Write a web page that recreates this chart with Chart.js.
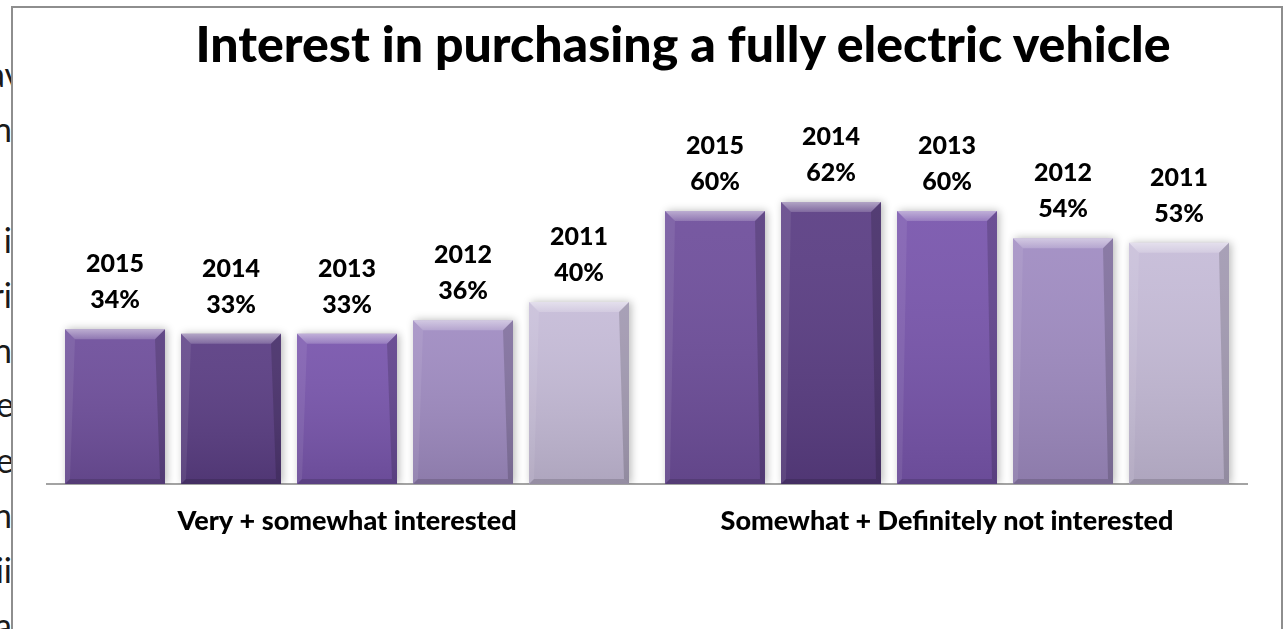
<!DOCTYPE html>
<html>
<head>
<meta charset="utf-8">
<script src="https://cdn.jsdelivr.net/npm/chart.js@4.4.1/dist/chart.umd.min.js"></script>
<style>
  html, body { margin: 0; padding: 0; background: #fff; width: 1284px; height: 629px; overflow: hidden; }
  .frag { position: absolute; right: 1272px; font-family: Lato, sans-serif; font-size: 34px; line-height: 34px;
          color: #1a1a1a; white-space: nowrap; }
  #frame { position: absolute; left: 11px; top: 6px; width: 1268px; height: 700px;
           border: 2px solid #8e8e8e; background: #fff; }
  #title { position: absolute; left: 683px; top: 18px; transform: translateX(-50%); white-space: nowrap;
           font-family: Lato, sans-serif; font-weight: 900; font-size: 50px; line-height: 50px; color: #000; }
  #wrap { position: absolute; left: 0; top: 0; width: 1284px; height: 629px; }
</style>
</head>
<body>
<!-- surrounding document text, partly hidden behind the chart frame -->
<div class="frag" style="top:57px; right:1262px">av</div>
<div class="frag" style="top:112px">n</div>
<div class="frag" style="top:223px">i</div>
<div class="frag" style="top:278px">ri</div>
<div class="frag" style="top:333px">n</div>
<div class="frag" style="top:387px; right:1270px">e</div>
<div class="frag" style="top:443px; right:1270px">e</div>
<div class="frag" style="top:498px">h</div>
<div class="frag" style="top:553px">ii</div>
<div class="frag" style="top:608px">a</div>

<div id="frame"></div>
<div id="title">Interest in purchasing a fully electric vehicle</div>
<div id="wrap"><canvas id="chart" width="1284" height="629"></canvas></div>

<script>
// Survey groups and the share (%) answering in each year
const categories = ['Very + somewhat interested', 'Somewhat + Definitely not interested'];
const years = ['2015', '2014', '2013', '2012', '2011'];
const share2015 = [34, 60];
const share2014 = [33, 62];
const share2013 = [33, 60];
const share2012 = [36, 54];
const share2011 = [40, 53];

const seriesByYear = [share2015, share2014, share2013, share2012, share2011];
const barColors = ['#6f4f9c', '#5b3e84', '#7956ad', '#a08cc2', '#c6bcd8'];

// Soft drop shadow behind the bars, then bevel shading and year/value labels on top
const bevelAndLabels = {
  id: 'bevelAndLabels',
  beforeDatasetsDraw(chart) {
    const ctx = chart.ctx;
    ctx.save();
    ctx.shadowColor = 'rgba(0,0,0,0.28)';
    ctx.shadowBlur = 8;
    ctx.shadowOffsetX = 2;
    ctx.shadowOffsetY = 0;
  },
  afterDatasetsDraw(chart) {
    const ctx = chart.ctx;
    ctx.restore();
    ctx.save();
    chart.data.datasets.forEach((ds, di) => {
      const meta = chart.getDatasetMeta(di);
      meta.data.forEach((bar, i) => {
        const p = bar.getProps(['x', 'y', 'base', 'width'], true);
        const l = p.x - p.width / 2, r = p.x + p.width / 2, t = p.y, b = p.base;
        const tb = 10, sb = 5;

        // face shading: a little lighter at the top, darker towards the base
        const g = ctx.createLinearGradient(0, t, 0, b);
        g.addColorStop(0, 'rgba(255,255,255,0.06)');
        g.addColorStop(1, 'rgba(0,0,0,0.12)');
        ctx.fillStyle = g;
        ctx.fillRect(l, t, r - l, b - t);

        // top bevel
        const gt = ctx.createLinearGradient(0, t, 0, t + tb);
        gt.addColorStop(0, 'rgba(255,255,255,0.5)');
        gt.addColorStop(1, 'rgba(255,255,255,0.18)');
        ctx.fillStyle = gt;
        ctx.beginPath();
        ctx.moveTo(l, t); ctx.lineTo(r, t); ctx.lineTo(r - tb, t + tb); ctx.lineTo(l + tb, t + tb);
        ctx.closePath(); ctx.fill();

        // left bevel
        ctx.fillStyle = 'rgba(255,255,255,0.08)';
        ctx.beginPath();
        ctx.moveTo(l, t); ctx.lineTo(l + tb, t + tb); ctx.lineTo(l + sb, b - sb); ctx.lineTo(l, b);
        ctx.closePath(); ctx.fill();

        // right bevel
        ctx.fillStyle = 'rgba(0,0,0,0.16)';
        ctx.beginPath();
        ctx.moveTo(r, t); ctx.lineTo(r - tb, t + tb); ctx.lineTo(r - sb, b - sb); ctx.lineTo(r, b);
        ctx.closePath(); ctx.fill();

        // bottom bevel
        ctx.fillStyle = 'rgba(0,0,0,0.14)';
        ctx.beginPath();
        ctx.moveTo(l, b); ctx.lineTo(l + sb, b - sb); ctx.lineTo(r - sb, b - sb); ctx.lineTo(r, b);
        ctx.closePath(); ctx.fill();

        // labels: year above value
        ctx.fillStyle = '#000';
        ctx.font = '900 25px Lato, sans-serif';
        ctx.textAlign = 'center';
        ctx.textBaseline = 'alphabetic';
        ctx.fillText(ds.label, p.x, t - 57);
        ctx.fillText(ds.data[i] + '%', p.x, t - 21);
      });
    });
    ctx.restore();
  }
};

function draw() {
  new Chart(document.getElementById('chart'), {
    type: 'bar',
    data: {
      labels: categories,
      datasets: years.map((y, k) => ({
        label: y,
        data: seriesByYear[k],
        backgroundColor: barColors[k],
        borderWidth: 0,
        categoryPercentage: 0.9667,
        barPercentage: 0.862
      }))
    },
    options: {
      responsive: false,
      animation: false,
      events: [],
      layout: { padding: { top: 120, left: 47, right: 37, bottom: 0 } },
      plugins: { legend: { display: false }, title: { display: false }, tooltip: { enabled: false } },
      scales: {
        y: { display: false, min: 0, max: 80 },
        x: {
          grid: { display: false, drawTicks: false },
          border: { display: true, color: '#a3a3a3', width: 2 },
          ticks: {
            color: '#000',
            font: { family: 'Lato', size: 27, weight: '900' },
            padding: 21,
            maxRotation: 0,
            autoSkip: false
          },
          afterFit(scale) { scale.height = 145; }
        }
      }
    },
    plugins: [bevelAndLabels]
  });
}

Promise.all([
  document.fonts.load('900 25px Lato'),
  document.fonts.load('34px Lato')
]).then(draw, draw);
</script>
</body>
</html>
